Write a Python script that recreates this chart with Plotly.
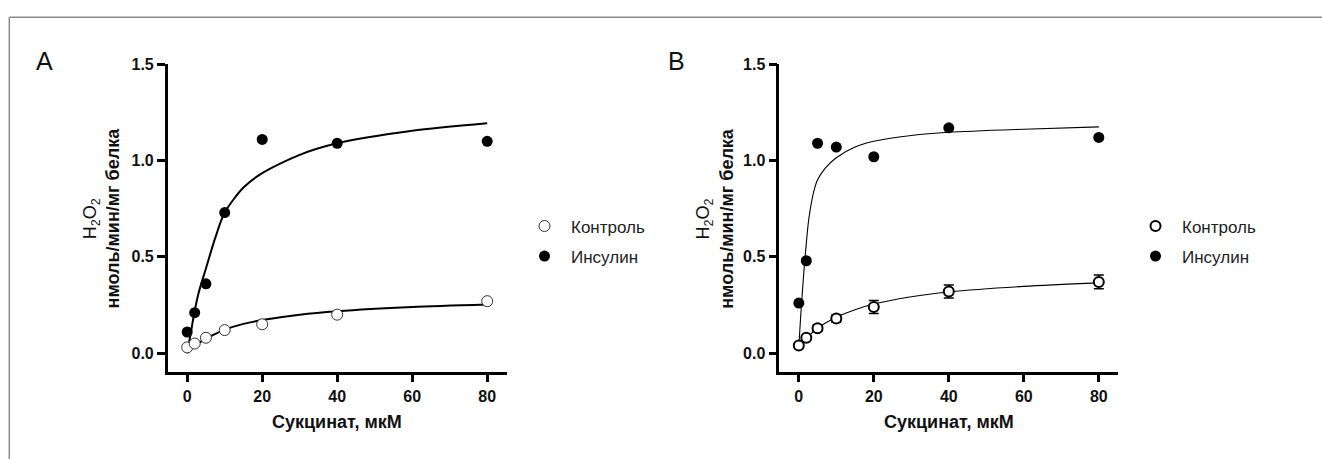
import plotly.graph_objects as go

# ---------------- data ----------------
conc = [0, 2, 5, 10, 20, 40, 80]

a_control = [0.03, 0.05, 0.08, 0.12, 0.15, 0.20, 0.27]
a_insulin = [0.11, 0.21, 0.36, 0.73, 1.11, 1.09, 1.10]

b_control = [0.04, 0.08, 0.13, 0.18, 0.24, 0.32, 0.37]
b_control_err = [0.012, 0.012, 0.015, 0.02, 0.034, 0.034, 0.036]
b_insulin = [0.26, 0.48, 1.09, 1.07, 1.02, 1.17, 1.12]

# fitted curves
fit_a_x = [0, 1, 2, 3, 5, 7.5, 10, 15, 20, 30, 40, 60, 80]
fit_a_control = [0, 0.02, 0.037, 0.051, 0.075, 0.1, 0.122, 0.152, 0.172, 0.2, 0.218, 0.24, 0.253]
fit_a_insulin = [0, 0.11, 0.22, 0.31, 0.44, 0.6, 0.73, 0.86, 0.935, 1.03, 1.09, 1.155, 1.194]

fit_b_x = [0, 0.5, 1, 1.5, 2, 2.5, 3, 4, 5, 7, 10, 15, 20, 30, 40, 60, 80]
fit_b_control = [0.035, 0.047, 0.058, 0.069, 0.079, 0.088, 0.097, 0.114, 0.129, 0.155, 0.187,
                 0.226, 0.255, 0.293, 0.318, 0.347, 0.365]
fit_b_insulin = [0.035, 0.19, 0.33, 0.46, 0.57, 0.67, 0.74, 0.84, 0.9, 0.96, 1.015, 1.07,
                 1.10, 1.13, 1.147, 1.163, 1.175]

x_ticks = [0, 20, 40, 60, 80]
y_ticks = [0, 0.5, 1.0, 1.5]
y_tick_text = ["0.0", "0.5", "1.0", "1.5"]
series_names = ["Контроль", "Инсулин"]
x_title = "Сукцинат, мкМ"
y_title = "H<sub>2</sub>O<sub>2</sub><br><b>нмоль/мин/мг белка</b>"
panel_labels = ["A", "B"]

# ---------------- layout geometry ----------------
W, H = 1322, 459
FONT = "Liberation Sans, Arial, sans-serif"


def px_x(p):
    return p / W


def px_y(p):
    return 1 - p / H


fig = go.Figure()

# Panel A
fig.add_trace(go.Scatter(x=fit_a_x, y=fit_a_control, mode="lines", line=dict(color="black", width=2, shape="spline", smoothing=0.8),
                         xaxis="x", yaxis="y", showlegend=False, hoverinfo="skip"))
fig.add_trace(go.Scatter(x=fit_a_x, y=fit_a_insulin, mode="lines", line=dict(color="black", width=2, shape="spline", smoothing=0.8),
                         xaxis="x", yaxis="y", showlegend=False, hoverinfo="skip"))
fig.add_trace(go.Scatter(x=conc, y=a_control, mode="markers", name=series_names[0],
                         marker=dict(symbol="circle", size=11, color="white", line=dict(width=1, color="#333333")),
                         xaxis="x", yaxis="y", legend="legend", legendgroup="a1"))
fig.add_trace(go.Scatter(x=conc, y=a_insulin, mode="markers", name=series_names[1],
                         marker=dict(symbol="circle", size=11, color="black"),
                         xaxis="x", yaxis="y", legend="legend", legendgroup="a2"))

# Panel B
fig.add_trace(go.Scatter(x=fit_b_x, y=fit_b_control, mode="lines", line=dict(color="black", width=1.1, shape="spline", smoothing=0.8),
                         xaxis="x2", yaxis="y2", showlegend=False, hoverinfo="skip"))
fig.add_trace(go.Scatter(x=fit_b_x, y=fit_b_insulin, mode="lines", line=dict(color="black", width=1.1, shape="spline", smoothing=0.8),
                         xaxis="x2", yaxis="y2", showlegend=False, hoverinfo="skip"))
fig.add_trace(go.Scatter(x=conc, y=b_control, mode="markers", name=series_names[0],
                         error_y=dict(type="data", array=b_control_err, color="black", thickness=1.5, width=5),
                         marker=dict(symbol="circle", size=10, color="white", line=dict(width=2, color="black")),
                         xaxis="x2", yaxis="y2", legend="legend2", legendgroup="b1"))
fig.add_trace(go.Scatter(x=conc, y=b_insulin, mode="markers", name=series_names[1],
                         marker=dict(symbol="circle", size=11, color="black"),
                         xaxis="x2", yaxis="y2", legend="legend2", legendgroup="b2"))

x_range = [-5.2, 85.2]
y_range = [-0.0954, 1.5]
y_dom = [px_y(370), px_y(57.3)]

axis_common = dict(showgrid=False, zeroline=False, showline=True, linecolor="black", linewidth=2.5,
                   ticks="outside", ticklen=8, tickwidth=2.5, tickcolor="black",
                   tickfont=dict(family=FONT, size=16, color="#111111", weight="bold"))

fig.update_layout(
    width=W, height=H,
    margin=dict(l=0, r=0, t=0, b=0),
    paper_bgcolor="white", plot_bgcolor="white",
    font=dict(family=FONT, color="#111111"),
    xaxis=dict(domain=[px_x(167.7), px_x(506.7)], range=x_range, tickvals=x_ticks, anchor="y", **axis_common),
    yaxis=dict(domain=y_dom, range=y_range, tickvals=y_ticks, ticktext=y_tick_text, anchor="x", **axis_common),
    xaxis2=dict(domain=[px_x(779.3), px_x(1118.3)], range=x_range, tickvals=x_ticks, anchor="y2", **axis_common),
    yaxis2=dict(domain=y_dom, range=y_range, tickvals=y_ticks, ticktext=y_tick_text, anchor="x2", **axis_common),
    legend=dict(x=px_x(518), y=px_y(204), xanchor="left", yanchor="top", itemwidth=43,
                tracegroupgap=5, font=dict(family=FONT, size=17, color="#222222"), bgcolor="rgba(0,0,0,0)"),
    legend2=dict(x=px_x(1129), y=px_y(204), xanchor="left", yanchor="top", itemwidth=43,
                 tracegroupgap=5, font=dict(family=FONT, size=17, color="#222222"), bgcolor="rgba(0,0,0,0)"),
    showlegend=True,
)

annotations = []
for lbl, cx in zip(panel_labels, [44, 676]):
    annotations.append(dict(text=lbl, x=px_x(cx), y=px_y(54), xref="paper", yref="paper",
                            showarrow=False, xanchor="center", yanchor="middle",
                            font=dict(family=FONT, size=25, color="#111111")))
for cx in [337.2, 948.8]:
    annotations.append(dict(text="<b>" + x_title + "</b>", x=px_x(cx), y=px_y(421.7), xref="paper", yref="paper",
                            showarrow=False, xanchor="center", yanchor="middle",
                            font=dict(family=FONT, size=18, color="#111111")))
for cx in [101.7, 715]:
    annotations.append(dict(text=y_title, x=px_x(cx), y=px_y(213.5), xref="paper", yref="paper",
                            showarrow=False, xanchor="center", yanchor="middle", textangle=-90,
                            font=dict(family=FONT, size=18, color="#111111")))
fig.update_layout(annotations=annotations)

# thin grey frame (top and left edges)
fig.add_shape(type="line", xref="paper", yref="paper", x0=px_x(9.3), x1=1, y0=px_y(9.3), y1=px_y(9.3),
              line=dict(color="#8a8a8a", width=1.5))
fig.add_shape(type="line", xref="paper", yref="paper", x0=px_x(9.3), x1=px_x(9.3), y0=0, y1=px_y(9.3),
              line=dict(color="#8a8a8a", width=1.5))

fig.write_html("out.html", config={"displayModeBar": False},
               post_script="document.body.style.margin='0';document.body.style.overflow='hidden';")
